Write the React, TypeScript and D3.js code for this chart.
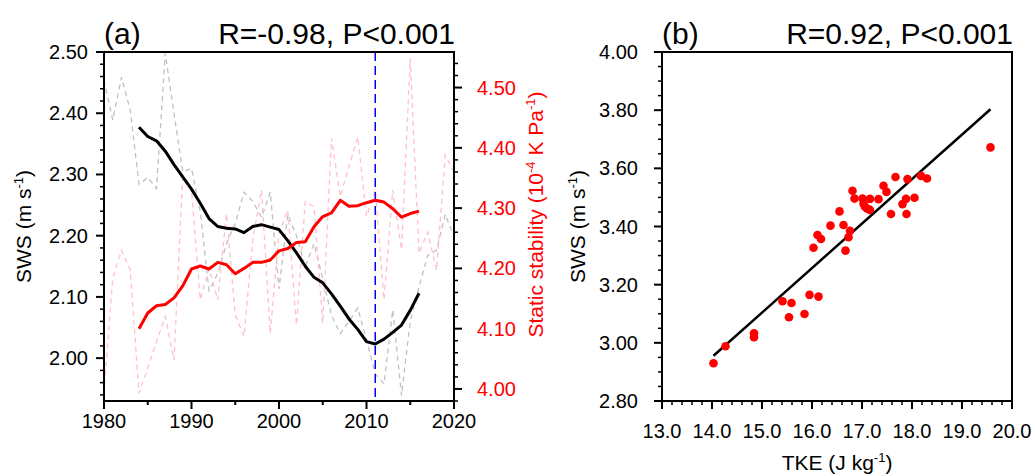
import React from 'react';
import * as d3 from 'd3';

// ---------- Data ----------
const years = [1980, 1981, 1982, 1983, 1984, 1985, 1986, 1987, 1988, 1989, 1990, 1991, 1992, 1993, 1994, 1995, 1996, 1997, 1998, 1999, 2000, 2001, 2002, 2003, 2004, 2005, 2006, 2007, 2008, 2009, 2010, 2011, 2012, 2013, 2014, 2015, 2016, 2017, 2018, 2019, 2020];
const swsRaw = [2.454, 2.389, 2.459, 2.405, 2.284, 2.295, 2.277, 2.498, 2.4, 2.304, 2.31, 2.24, 2.11, 2.138, 2.187, 2.22, 2.271, 2.256, 2.23, 2.271, 2.113, 2.235, 2.2, 2.149, 2.187, 2.13, 2.07, 2.04, 2.06, 2.082, 2.03, 1.974, 1.958, 2.079, 1.939, 2.06, 2.116, 2.168, 2.176, 2.235, 2.198];
const stabRaw = [3.993, 4.184, 4.23, 4.197, 3.993, 4.035, 4.078, 4.12, 4.048, 4.355, 4.33, 4.148, 4.2, 4.148, 4.291, 4.123, 4.087, 4.247, 4.33, 4.092, 4.258, 4.297, 4.106, 4.311, 4.302, 4.109, 4.416, 4.319, 4.369, 4.418, 4.286, 4.33, 4.148, 4.33, 4.231, 4.548, 4.225, 4.26, 4.197, 4.388, 4.36];
const smoothYears = [1984, 1985, 1986, 1987, 1988, 1989, 1990, 1991, 1992, 1993, 1994, 1995, 1996, 1997, 1998, 1999, 2000, 2001, 2002, 2003, 2004, 2005, 2006, 2007, 2008, 2009, 2010, 2011, 2012, 2013, 2014, 2015, 2016];
const swsSmooth = [2.377, 2.362, 2.355, 2.338, 2.316, 2.296, 2.276, 2.253, 2.228, 2.215, 2.212, 2.211, 2.205, 2.215, 2.218, 2.214, 2.21, 2.192, 2.172, 2.15, 2.132, 2.123, 2.105, 2.085, 2.064, 2.047, 2.027, 2.023, 2.031, 2.042, 2.054, 2.078, 2.106];
const stabSmooth = [4.1, 4.126, 4.138, 4.14, 4.151, 4.171, 4.199, 4.204, 4.199, 4.21, 4.206, 4.191, 4.2, 4.21, 4.21, 4.214, 4.229, 4.233, 4.243, 4.244, 4.269, 4.286, 4.292, 4.313, 4.303, 4.304, 4.309, 4.313, 4.31, 4.299, 4.285, 4.291, 4.295];
const markYear = 2011;

const xTicksA = [1980, 1990, 2000, 2010, 2020];
const yTicksA = [2.0, 2.1, 2.2, 2.3, 2.4, 2.5];
const yTicksA2 = [4.0, 4.1, 4.2, 4.3, 4.4, 4.5];

const tke = [19.57, 17.67, 17.91, 18.18, 18.3, 17.43, 17.49, 16.81, 16.85, 17.01, 17.16, 17.33, 17.03, 17.06, 17.1, 17.16, 17.88, 17.81, 18.05, 17.58, 17.89, 16.55, 16.37, 16.63, 16.76, 16.73, 16.11, 16.18, 16.03, 16.67, 15.41, 15.59, 15.95, 16.13, 15.54, 15.85, 14.84, 14.84, 14.27, 14.03];
const swsB = [3.672, 3.57, 3.563, 3.574, 3.565, 3.54, 3.519, 3.523, 3.496, 3.496, 3.495, 3.494, 3.478, 3.468, 3.462, 3.457, 3.495, 3.477, 3.499, 3.443, 3.443, 3.452, 3.403, 3.405, 3.385, 3.363, 3.371, 3.357, 3.327, 3.317, 3.143, 3.137, 3.165, 3.159, 3.088, 3.099, 3.033, 3.019, 2.988, 2.93];
const fitSlope = 0.153;
const fitIntercept = 0.809;
const xTicksB = [13, 14, 15, 16, 17, 18, 19, 20];
const yTicksB = [2.8, 3.0, 3.2, 3.4, 3.6, 3.8, 4.0];

// ---------- Layout ----------
const W = 1035, H = 476;
const A = { l: 104, r: 454, t: 52, b: 401 };
const B = { l: 662, r: 1012, t: 52, b: 401 };
const FONT = "'Liberation Sans', Arial, Helvetica, sans-serif";
const TICK_FS = 20;
const TITLE_FS = 30;
const AXT_FS = 21;

export default function App() {
  const xA = d3.scaleLinear().domain([1980, 2020]).range([A.l, A.r]);
  const yA = d3.scaleLinear().domain([1.93, 2.5]).range([A.b, A.t]);
  const yA2 = d3.scaleLinear().domain([3.98, 4.559]).range([A.b, A.t]);
  const xB = d3.scaleLinear().domain([13, 20]).range([B.l, B.r]);
  const yB = d3.scaleLinear().domain([2.8, 4.0]).range([B.b, B.t]);

  const lineSws = d3.line<number>().x((_, i) => xA(years[i])).y((d) => yA(d));
  const lineStab = d3.line<number>().x((_, i) => xA(years[i])).y((d) => yA2(d));
  const lineSwsS = d3.line<number>().x((_, i) => xA(smoothYears[i])).y((d) => yA(d));
  const lineStabS = d3.line<number>().x((_, i) => xA(smoothYears[i])).y((d) => yA2(d));

  const minorXA = d3.range(1985, 2020, 10);
  const minorYA = d3.range(1.94, 2.5, 0.02).filter((v) => Math.abs(Math.round(v * 10) - v * 10) > 0.01);
  const minorYA2 = d3.range(3.98, 4.56, 0.02).filter((v) => Math.abs(Math.round(v * 10) - v * 10) > 0.01);
  const minorXB = d3.range(13, 20.001, 0.2).filter((v) => Math.abs(Math.round(v) - v) > 0.01);
  const minorYB = d3.range(2.8, 4.001, 0.05).filter((v) => Math.abs(Math.round(v * 5) - v * 5) > 0.01);

  const tMin = d3.min(tke)!, tMax = d3.max(tke)!;
  const fitLine = d3.line<number>().x((d) => xB(d)).y((d) => yB(fitIntercept + fitSlope * d));

  const MAJ = 8, MIN = 4, SW = 2;

  return (
    <svg width={W} height={H} style={{ position: 'absolute', left: 0, top: 0, background: '#fff' }} fontFamily={FONT}>
      <rect width={W} height={H} fill="#fff" />
      <defs>
        <clipPath id="clipA"><rect x={A.l} y={A.t} width={A.r - A.l} height={A.b - A.t} /></clipPath>
      </defs>

      {/* ---------- Panel (a) ---------- */}
      <g clipPath="url(#clipA)">
        <path d={lineSws(swsRaw)!} fill="none" stroke="#c0c0c0" strokeWidth={1.3} strokeDasharray="5 4" />
        <path d={lineStab(stabRaw)!} fill="none" stroke="#ffc0cb" strokeWidth={1.3} strokeDasharray="5 4" />
        <line x1={xA(markYear)} x2={xA(markYear)} y1={A.t} y2={A.b} stroke="#0000ff" strokeWidth={1.5} strokeDasharray="9 5" />
        <path d={lineSwsS(swsSmooth)!} fill="none" stroke="#000" strokeWidth={3} strokeLinejoin="round" />
        <path d={lineStabS(stabSmooth)!} fill="none" stroke="#ff0000" strokeWidth={3} strokeLinejoin="round" />
      </g>
      <rect x={A.l} y={A.t} width={A.r - A.l} height={A.b - A.t} fill="none" stroke="#000" strokeWidth={SW} />
      {/* x ticks */}
      {xTicksA.map((t) => (
        <g key={'xa' + t}>
          <line x1={xA(t)} x2={xA(t)} y1={A.b} y2={A.b + MAJ} stroke="#000" strokeWidth={SW} />
          <text x={xA(t)} y={A.b + 27} fontSize={TICK_FS} textAnchor="middle">{t}</text>
        </g>
      ))}
      {minorXA.map((t) => (
        <line key={'mxa' + t} x1={xA(t)} x2={xA(t)} y1={A.b} y2={A.b + MIN} stroke="#000" strokeWidth={SW} />
      ))}
      {/* left y */}
      {yTicksA.map((t) => (
        <g key={'ya' + t}>
          <line x1={A.l - MAJ} x2={A.l} y1={yA(t)} y2={yA(t)} stroke="#000" strokeWidth={SW} />
          <text x={A.l - 16} y={yA(t) + 7} fontSize={TICK_FS} textAnchor="end">{t.toFixed(2)}</text>
        </g>
      ))}
      {minorYA.map((t) => (
        <line key={'mya' + t} x1={A.l - MIN} x2={A.l} y1={yA(t)} y2={yA(t)} stroke="#000" strokeWidth={1.5} />
      ))}
      {/* right y */}
      {yTicksA2.map((t) => (
        <g key={'ya2' + t}>
          <line x1={A.r} x2={A.r + MAJ} y1={yA2(t)} y2={yA2(t)} stroke="#000" strokeWidth={SW} />
          <text x={A.r + 23} y={yA2(t) + 7} fontSize={TICK_FS} fill="#ff0000" textAnchor="start">{t.toFixed(2)}</text>
        </g>
      ))}
      {minorYA2.map((t) => (
        <line key={'mya2' + t} x1={A.r} x2={A.r + MIN} y1={yA2(t)} y2={yA2(t)} stroke="#000" strokeWidth={1.5} />
      ))}
      {/* titles */}
      <text x={A.l} y={44} fontSize={TITLE_FS}>(a)</text>
      <text x={A.r + 1} y={44} fontSize={TITLE_FS} textAnchor="end">R=-0.98, P&lt;0.001</text>
      <text transform={`translate(31,${(A.t + A.b) / 2}) rotate(-90)`} fontSize={AXT_FS} textAnchor="middle">
        SWS (m s<tspan dy={-8} fontSize={13}>-1</tspan><tspan dy={8}>)</tspan>
      </text>
      <text transform={`translate(543,${(A.t + A.b) / 2 - 12}) rotate(-90)`} fontSize={AXT_FS} textAnchor="middle" fill="#ff0000">
        Static stability (10<tspan dy={-8} fontSize={13}>-4</tspan><tspan dy={8}> K Pa</tspan><tspan dy={-8} fontSize={13}>-1</tspan><tspan dy={8}>)</tspan>
      </text>

      {/* ---------- Panel (b) ---------- */}
      <path d={fitLine([tMin, tMax])!} fill="none" stroke="#000" strokeWidth={2.5} />
      {tke.map((t, i) => (
        <circle key={'p' + i} cx={xB(t)} cy={yB(swsB[i])} r={4.3} fill="#ff0000" />
      ))}
      <rect x={B.l} y={B.t} width={B.r - B.l} height={B.b - B.t} fill="none" stroke="#000" strokeWidth={SW} />
      {xTicksB.map((t) => (
        <g key={'xb' + t}>
          <line x1={xB(t)} x2={xB(t)} y1={B.b} y2={B.b + MAJ} stroke="#000" strokeWidth={SW} />
          <text x={xB(t)} y={B.b + 37} fontSize={TICK_FS} textAnchor="middle">{t.toFixed(1)}</text>
        </g>
      ))}
      {minorXB.map((t) => (
        <line key={'mxb' + t} x1={xB(t)} x2={xB(t)} y1={B.b} y2={B.b + MIN} stroke="#000" strokeWidth={1.5} />
      ))}
      {yTicksB.map((t) => (
        <g key={'yb' + t}>
          <line x1={B.l - MAJ} x2={B.l} y1={yB(t)} y2={yB(t)} stroke="#000" strokeWidth={SW} />
          <text x={B.l - 24} y={yB(t) + 7} fontSize={TICK_FS} textAnchor="end">{t.toFixed(2)}</text>
        </g>
      ))}
      {minorYB.map((t) => (
        <line key={'myb' + t} x1={B.l - MIN} x2={B.l} y1={yB(t)} y2={yB(t)} stroke="#000" strokeWidth={1.5} />
      ))}
      <text x={B.l} y={44} fontSize={TITLE_FS}>(b)</text>
      <text x={B.r + 1} y={44} fontSize={TITLE_FS} textAnchor="end">R=0.92, P&lt;0.001</text>
      <text transform={`translate(585,${(B.t + B.b) / 2}) rotate(-90)`} fontSize={AXT_FS} textAnchor="middle">
        SWS (m s<tspan dy={-8} fontSize={13}>-1</tspan><tspan dy={8}>)</tspan>
      </text>
      <text x={(B.l + B.r) / 2} y={470} fontSize={AXT_FS} textAnchor="middle">
        TKE (J kg<tspan dy={-8} fontSize={13}>-1</tspan><tspan dy={8}>)</tspan>
      </text>
    </svg>
  );
}
